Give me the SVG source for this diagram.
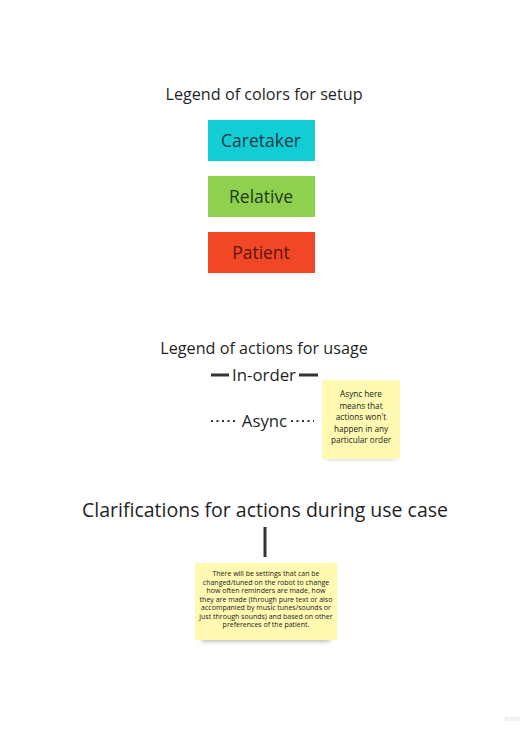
<svg xmlns="http://www.w3.org/2000/svg" width="532" height="735" viewBox="0 0 532 735">
<defs>
<filter id="sh" x="-20%" y="-20%" width="140%" height="160%">
<feGaussianBlur stdDeviation="2.5"/>
</filter>
</defs>
<style>
text{font-family:"Open Sans","Noto Sans",sans-serif;fill:#1f1f1f;text-anchor:middle}
.t{font-size:16.2px}
.l{font-size:16.8px}
.big{font-size:19.5px}
.box{font-size:17.5px}
.note{font-size:8.2px;fill:#222}
.note2{font-size:7px;fill:#222}
.sticky{fill:#fff9b1}
.shadow{fill:#000;opacity:0.35}
</style>
<rect width="532" height="735" fill="#ffffff"/>
<g id="title-colors"><text class="t" x="264" y="100">Legend of colors for setup</text></g>
<g id="caretaker"><rect x="208" y="120" width="107" height="41" fill="#12cdd4"/><text class="box" x="261" y="146.5" style="fill:#1a3a4a">Caretaker</text></g>
<g id="relative"><rect x="208" y="176" width="107" height="41" fill="#8fd14f"/><text class="box" x="261" y="202.5" style="fill:#1e3a12">Relative</text></g>
<g id="patient"><rect x="208" y="232" width="107" height="41" fill="#f24726"/><text class="box" x="261" y="258.5" style="fill:#5a1508">Patient</text></g>
<g id="title-actions"><text class="t" x="264" y="354">Legend of actions for usage</text></g>
<g id="inorder"><text class="l" x="264" y="381">In-order</text></g>
<g id="async"><text class="l" x="264.5" y="427">Async</text></g>
<g id="note-async">
<rect class="shadow" x="326" y="446" width="70" height="12" filter="url(#sh)"/>
<rect class="sticky" x="322" y="380" width="78" height="79"/>
<text class="note" x="361" y="397">Async here</text>
<text class="note" x="361" y="408.5">means that</text>
<text class="note" x="361" y="420">actions won't</text>
<text class="note" x="361" y="431.5">happen in any</text>
<text class="note" x="361" y="443">particular order</text>
</g>
<g id="title-clarifications"><text class="big" x="265" y="517">Clarifications for actions during use case</text></g>
<g id="note-settings">
<rect class="shadow" x="202" y="627" width="128" height="14" filter="url(#sh)"/>
<rect class="sticky" x="195" y="563" width="142" height="77"/>
<text class="note2" x="266" y="576">There will be settings that can be</text>
<text class="note2" x="266" y="584.5">changed/tuned on the robot to change</text>
<text class="note2" x="266" y="593">how often reminders are made, how</text>
<text class="note2" x="266" y="601.5">they are made (through pure text or also</text>
<text class="note2" x="266" y="610">accompanied by music tunes/sounds or</text>
<text class="note2" x="266" y="618.5">just through sounds) and based on other</text>
<text class="note2" x="266" y="627">preferences of the patient.</text>
</g>
<g id="connectors" stroke="#333" fill="none">
<line x1="211" y1="375" x2="229" y2="375" stroke-width="3"/>
<line x1="299" y1="375" x2="318" y2="375" stroke-width="3"/>
<line x1="211" y1="421" x2="238" y2="421" stroke-width="2" stroke-dasharray="2 3.5"/>
<line x1="291" y1="421" x2="314" y2="421" stroke-width="2" stroke-dasharray="2 3.5"/>
<line x1="265" y1="527" x2="265" y2="557" stroke-width="3"/>
</g>
<text x="512" y="721" style="font-size:7px;fill:#d8d8d8">miro</text>
</svg>
